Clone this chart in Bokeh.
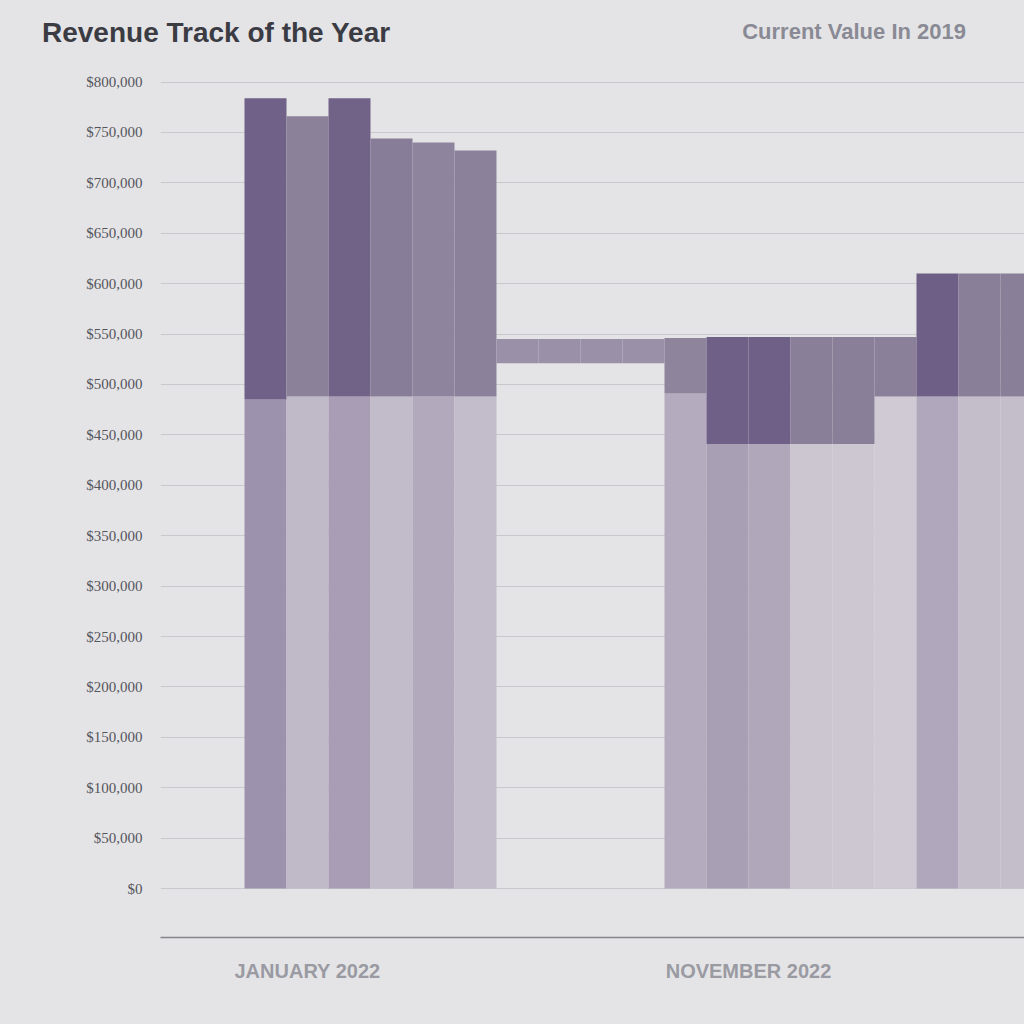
from bokeh.plotting import figure
from bokeh.models import ColumnDataSource, Range1d, FixedTicker, NumeralTickFormatter, Div
from bokeh.layouts import column
from bokeh.embed import file_html
from bokeh.resources import INLINE

# ---- data (values in dollars) ----
columns = ["C01", "C02", "C03", "C04", "C05", "C06",
           "C07", "C08", "C09", "C10",
           "C11", "C12", "C13", "C14", "C15", "C16", "C17", "C18", "C19"]
lower_values = [485000, 488000, 488000, 488000, 488000, 488000,
                521000, 521000, 521000, 521000,
                491000, 441000, 441000, 441000, 441000, 488000, 488000, 488000, 488000]
total_values = [784000, 766000, 784000, 744000, 740000, 732000,
                545000, 545000, 545000, 545000,
                546000, 547000, 547000, 547000, 547000, 547000, 610000, 610000, 610000]
group_labels = ["JANUARY 2022", "NOVEMBER 2022"]
group_tick_pos = [3.5, 14.0]
title_text = "Revenue Track of the Year"
subtitle_text = "Current Value In 2019"

# ---- styles ----
BG = "#e4e4e6"
lower_colors = ["#9d92ad", "#c0b9c7", "#a89db5", "#c2bbca", "#b3a9bd", "#c3bcca",
                "rgba(0,0,0,0)", "rgba(0,0,0,0)", "rgba(0,0,0,0)", "rgba(0,0,0,0)",
                "#b4abbe", "#a99fb5", "#b0a7bb", "#cbc6cf", "#ccc7d1", "#cfcad4",
                "#b0a7bd", "#c4bdca", "#c4bdca"]
upper_colors = ["#6f6187", "#8b8199", "#716388", "#887d98", "#8f849e", "#8c819b",
                "#9a90a8", "#9a90a8", "#9a90a8", "#9a90a8",
                "#8e849c", "#6e6086", "#6e6086", "#8a7f98", "#8a7f98", "#8b809a",
                "#6d5f85", "#8a7f98", "#8a7f98"]

x_pos = [i + 2.5 for i in range(len(columns))]
zeros = [0] * len(columns)

src = ColumnDataSource(dict(x=x_pos, bottom=zeros, split=lower_values, top=total_values,
                            lc=lower_colors, uc=upper_colors, name=columns))

X_END = 864 / 42
p = figure(width=1024, height=954, output_backend="svg", toolbar_location=None,
           x_range=Range1d(0, X_END), y_range=Range1d(-48500, 801500),
           min_border_left=160, min_border_right=0, min_border_top=10, min_border_bottom=87,
           background_fill_color=BG, border_fill_color=BG, outline_line_color=None)

p.vbar(x="x", bottom="bottom", top="split", width=1.0, fill_color="lc", line_color=None, source=src)
p.vbar(x="x", bottom="split", top="top", width=1.0, fill_color="uc", line_color=None, source=src)

# y axis
p.yaxis.ticker = FixedTicker(ticks=list(range(0, 800001, 50000)))
p.yaxis.formatter = NumeralTickFormatter(format="$0,0")
p.yaxis.axis_line_color = None
p.yaxis.major_tick_line_color = None
p.yaxis.minor_tick_line_color = None
p.yaxis.major_label_text_font = "Liberation Serif"
p.yaxis.major_label_text_font_size = "15px"
p.yaxis.major_label_text_color = "#55555c"
p.yaxis.major_label_standoff = 12

# x axis
p.xaxis.ticker = FixedTicker(ticks=group_tick_pos)
p.xaxis.major_label_overrides = {group_tick_pos[i]: group_labels[i] for i in range(len(group_labels))}
p.xaxis.axis_line_color = "#85858c"
p.xaxis.axis_line_width = 1.5
p.xaxis.major_tick_line_color = None
p.xaxis.minor_tick_line_color = None
p.xaxis.major_label_text_font = "Liberation Sans"
p.xaxis.major_label_text_font_style = "bold"
p.xaxis.major_label_text_font_size = "20px"
p.xaxis.major_label_text_color = "#9a9aa2"
p.xaxis.major_label_standoff = 16

p.xgrid.grid_line_color = None
p.ygrid.grid_line_color = "#c9c9cd"
p.ygrid.grid_line_width = 1

header_html = (
    '<div style="position:relative;width:1024px;height:70px;background:%s;'
    'font-family:\'Liberation Sans\',Arial,sans-serif;font-weight:bold;white-space:nowrap;">'
    '<span style="position:absolute;left:42px;top:16px;font-size:28px;line-height:34px;color:#3b3b44;">%s</span>'
    '<span style="position:absolute;right:58px;top:19px;font-size:22px;line-height:26px;color:#8a8a95;">%s</span>'
    '</div>' % (BG, title_text, subtitle_text)
)
header = Div(text=header_html, width=1024, height=70, margin=0,
             styles={"background-color": BG})

layout = column(header, p, spacing=0, margin=0, styles={"background-color": BG})

open("out.html", "w").write(file_html(layout, INLINE))
